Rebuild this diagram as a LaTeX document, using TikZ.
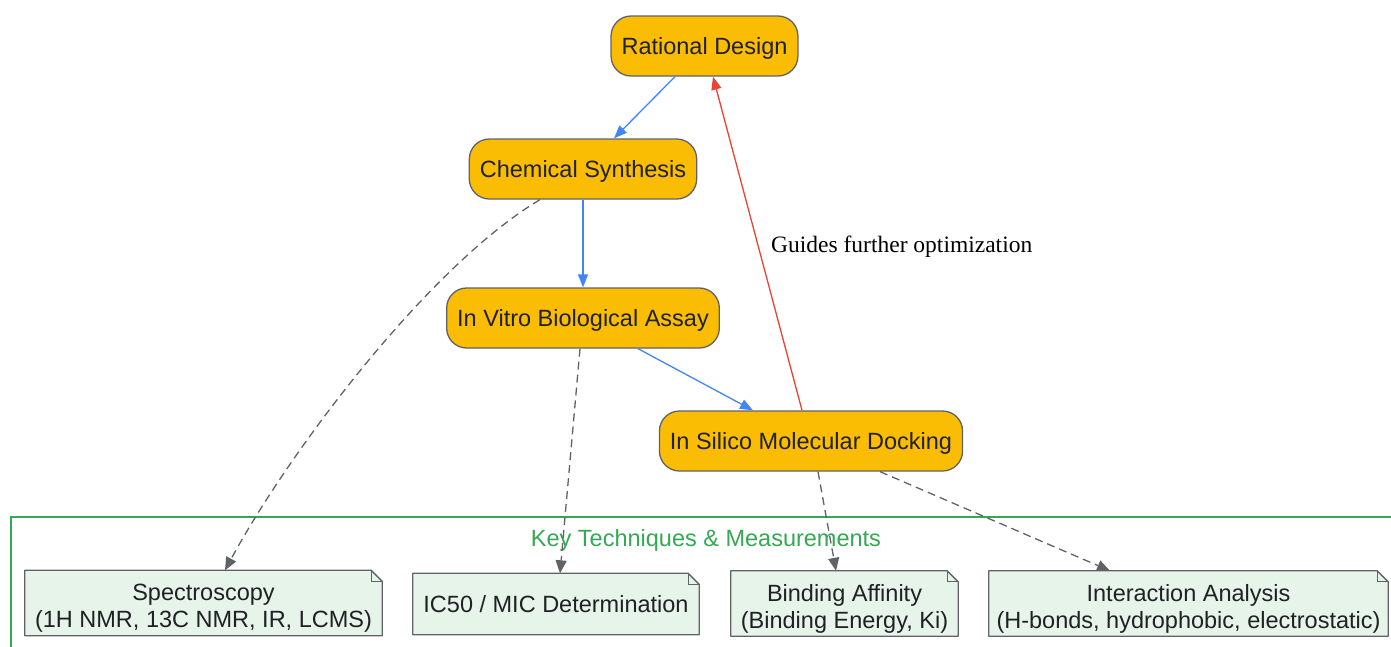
\documentclass[tikz,border=0pt]{standalone}
\usepackage{fontspec}
\setmainfont{Liberation Sans}
\newfontfamily\labelserif{Liberation Serif}
\usetikzlibrary{calc,arrows.meta}
\definecolor{nodefill}{HTML}{FBBC04}
\definecolor{nodeline}{HTML}{5F6368}
\definecolor{txt}{HTML}{202124}
\definecolor{flowblue}{HTML}{4285F4}
\definecolor{backred}{HTML}{EA4335}
\definecolor{clustergreen}{HTML}{34A853}
\definecolor{notefill}{HTML}{E6F4EA}
\definecolor{dashgray}{HTML}{5F6368}
\newcommand\dogear[1]{%
  \fill[notefill] (#1.north west) -- ($(#1.north east)+(-11,0)$) -- ($(#1.north east)+(0,11)$) -- (#1.south east) -- (#1.south west) -- cycle;
  \draw[nodeline,line width=1.3pt,line join=round] (#1.north west) -- ($(#1.north east)+(-11,0)$) -- ($(#1.north east)+(0,11)$) -- (#1.south east) -- (#1.south west) -- cycle;
  \draw[nodeline,line width=1pt] ($(#1.north east)+(-11,0)$) -- ($(#1.north east)+(-11,11)$) -- ($(#1.north east)+(0,11)$);
}
\begin{document}
\begin{tikzpicture}[x=1pt,y=-1pt,
  every node/.style={font=\fontsize{23.5}{27}\selectfont, text=txt},
  stepbox/.style={draw=nodeline, fill=nodefill, line width=1.3pt, rounded corners=20pt,
    minimum height=60pt, inner xsep=10.5pt, inner ysep=0pt, text height=22pt, text depth=5pt},
  notebox/.style={minimum width=#1, inner sep=0pt},
  notetext/.style={align=center, inner sep=0pt},
  flow/.style={draw=flowblue, line width=1.3pt, -{Triangle[length=13pt,width=10pt]}},
  feedback/.style={draw=backred, line width=1.3pt, -{Triangle[length=13pt,width=10pt]}},
  link/.style={draw=dashgray, line width=1.3pt, dash pattern=on 8pt off 5pt, -{Triangle[length=13pt,width=11pt]}},
]
\useasboundingbox (0,0) rectangle (1391,646);
% cluster
\draw[clustergreen, line width=1.3pt] (11,660) -- (11,517) -- (1400,517);
\node[text=clustergreen, text height=22pt, text depth=5pt, inner sep=0pt] (clabel) at (706,538) {Key Techniques \& Measurements};

% main nodes
\node[stepbox] (rd) at (704.5,46) {Rational Design};
\node[stepbox] (cs) at (583,169) {Chemical Synthesis};
\node[stepbox] (iv) at (583,318) {In Vitro Biological Assay};
\node[stepbox] (is) at (811,441) {In Silico Molecular Docking};

% note boxes
\node[notebox=357pt, minimum height=65pt] (sp) at (203.5,603) {};
\node[notebox=286pt, minimum height=61pt] (ic) at (556,604) {};
\node[notebox=227pt, minimum height=65pt] (ba) at (844.5,603.5) {};
\node[notebox=399pt, minimum height=65pt] (ia) at (1188.5,603.5) {};
\dogear{sp}\dogear{ic}\dogear{ba}\dogear{ia}
\node[notetext] (spt) at (203.5,608) {Spectroscopy\\(1H NMR, 13C NMR, IR, LCMS)};
\node[notetext, text height=22pt, text depth=5pt] (ict) at (556,604) {IC50 / MIC Determination};
\node[notetext] (bat) at (844.5,608.5) {Binding Affinity\\(Binding Energy, Ki)};
\node[notetext] (iat) at (1188.5,608.5) {Interaction Analysis\\(H-bonds, hydrophobic, electrostatic)};

% flow edges
\draw[flow] ($(rd.south)+(-29.5,0)$) -- ($(cs.north)+(31,0)$);
\draw[flow] (cs.south) -- (iv.north);
\draw[flow] ($(iv.south)+(55,0)$) -- ($(is.north)+(-58,0)$);
\draw[feedback] ($(is.north)+(-9,0)$) -- ($(rd.south)+(8.5,0)$);
\node[anchor=west, inner sep=0pt, font=\labelserif\fontsize{23.5}{27}\selectfont, text=black] (fb) at (771,247) {Guides further optimization};

% dashed links
\draw[link] ($(cs.south)+(-43,0)$) .. controls (430,265) and (290,450) .. ($(sp.north)+(21.5,0)$);
\draw[link] ($(iv.south)+(-3,0)$) -- ($(ic.north)+(4,0)$);
\draw[link] ($(is.south)+(7,0)$) -- ($(ba.north)+(-8.5,0)$);
\draw[link] ($(is.south)+(69,0)$) -- ($(ia.north)+(-78.5,0)$);
\end{tikzpicture}
\end{document}
